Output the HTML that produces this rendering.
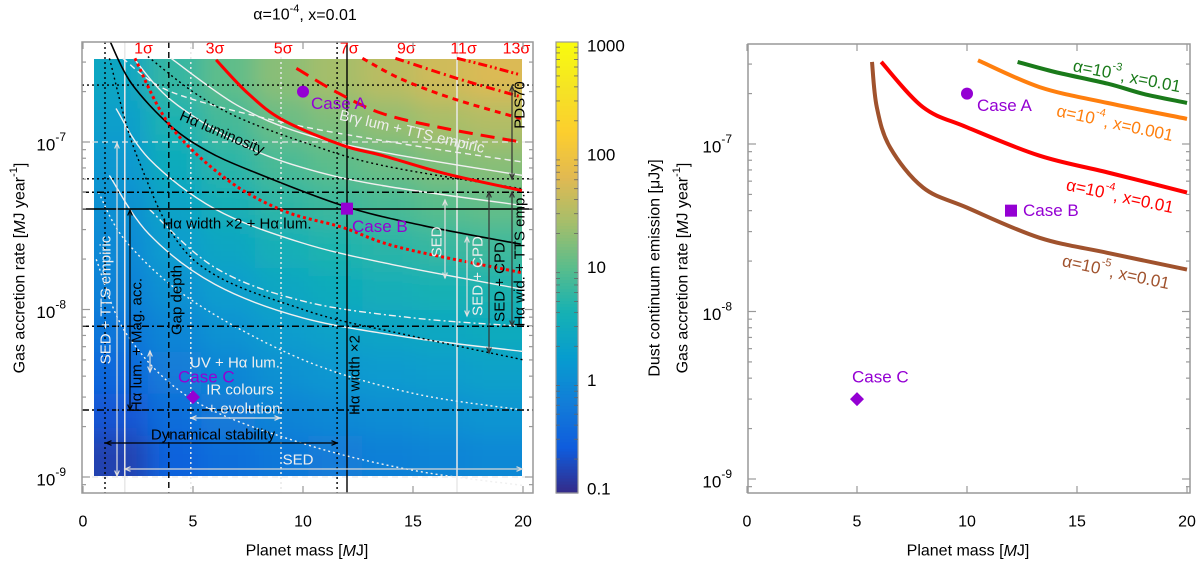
<!DOCTYPE html>
<html><head><meta charset="utf-8">
<style>
html,body{margin:0;padding:0;background:#fff;}
svg{display:block;font-family:"Liberation Sans",Arial,sans-serif;}
</style></head>
<body>
<svg id="fig" width="1200" height="561" viewBox="0 0 1200 561" xmlns="http://www.w3.org/2000/svg">
<defs>
<clipPath id="clipL"><rect x="82" y="42" width="451" height="451"/></clipPath>
<clipPath id="clipR"><rect x="748" y="44" width="442" height="449"/></clipPath>
<clipPath id="clipH"><rect x="94" y="59" width="428" height="417"/></clipPath>
<filter id="blur" x="-10%" y="-10%" width="120%" height="120%"><feGaussianBlur stdDeviation="12"/></filter>
</defs>
<g id="left"></g>
<g id="right"></g>
</svg>
<script>
// ---------- DATA ----------
const heatM = [1.72,4.16,6.59,9.03,11.47,13.91,16.34,18.78];
const heatL = [-8.875,-8.625,-8.375,-8.125,-7.875,-7.625,-7.375,-7.125,-6.875,-6.625];
const heatV = [
 [-0.81,-0.64,-0.46,-0.29,-0.15,-0.05,0.05,0.15,0.26,0.39],
 [-0.53,-0.38,-0.23,-0.08,0.07,0.21,0.34,0.48,0.63,0.78],
 [-0.38,-0.23,-0.08,0.08,0.23,0.39,0.56,0.72,0.88,1.03],
 [-0.27,-0.11,0.06,0.22,0.39,0.56,0.74,0.91,1.09,1.26],
 [-0.21,-0.04,0.14,0.31,0.49,0.66,0.84,1.01,1.2,1.4],
 [-0.16,0.01,0.19,0.36,0.54,0.73,0.91,1.1,1.31,1.54],
 [-0.11,0.06,0.24,0.41,0.6,0.8,1.0,1.2,1.43,1.68],
 [-0.06,0.11,0.29,0.46,0.65,0.85,1.05,1.25,1.49,1.76]
];
const sig1 = [[2.36,-6.50],[3.95,-6.90],[6.5,-7.22],[9.1,-7.41],[11.8,-7.51],[14.4,-7.63],[19.95,-7.78]];
const sig3 = [[6.05,-6.51],[7.5,-6.71],[9.1,-6.87],[11.8,-7.02],[13.6,-7.08],[16.5,-7.19],[19.95,-7.29]];
const sig5 = [[9.7,-6.56],[11.5,-6.7],[13.6,-6.83],[16.5,-6.92],[19.9,-7.0]];
const sig7 = [[12.7,-6.50],[14.4,-6.62],[16.8,-6.74],[19.9,-6.86]];
const sig9 = [[14.2,-6.50],[17,-6.62],[19.9,-6.73]];
const sig11 = [[17.0,-6.50],[18.5,-6.55],[19.9,-6.60]];
const haLum = [[1.23,-6.40],[2.2,-6.65],[3.95,-6.90],[5.6,-7.05],[7.6,-7.17],[11.8,-7.38],[15.5,-7.50],[19.9,-7.61]];
const blkDot1 = [[2.95,-6.49],[5,-6.7],[7,-6.85],[10,-7.0],[13.6,-7.14],[20,-7.28]];
const blkDot2 = [[1.2,-6.5],[2.5,-7.1],[5,-7.70],[10,-8.0],[15,-8.16],[20,-8.3]];
const wht0 = [[4,-6.5],[7,-6.78],[10,-6.95],[14,-7.07],[20,-7.2]];
const wht1 = [[2.3,-6.5],[4,-6.75],[7,-7.0],[9.9,-7.15],[13.6,-7.26],[20,-7.38]];
const wht2 = [[1.5,-6.8],[3,-7.1],[6,-7.4],[9.9,-7.6],[14,-7.73],[20,-7.88]];
const wht3 = [[1.2,-7.2],[3,-7.55],[6,-7.85],[10,-8.05],[15,-8.17],[20,-8.25]];
const whtDash1 = [[1.8,-6.5],[4,-6.7],[9,-6.88],[14,-7.0],[20,-7.12]];
const whtDash2 = [[3,-7.4],[6,-7.75],[10,-7.95],[15,-8.05],[20,-8.1]];
const whtDot1 = [[0.6,-7.7],[2,-8.15],[5,-8.54],[10,-8.8],[15,-8.96],[20,-9.05]];
const whtDot2 = [[0.7,-7.3],[2,-7.6],[5,-7.95],[10,-8.3],[15,-8.5],[20,-8.6]];
const hLines = [[-6.66,'dot'],[-7.22,'dot'],[-7.30,'dashdot'],[-7.40,'solid'],[-8.10,'dashdot'],[-8.60,'dashdot']];
const vLines = [[1.0,'dot'],[3.9,'dash'],[11.55,'dot'],[12.0,'solid']];
const cases = [["Case A",10,2e-7,"circle"],["Case B",12,4e-8,"square"],["Case C",5,3e-9,"diamond"]];
const sigmaLabels = ["1σ","3σ","5σ","7σ","9σ","11σ","13σ"];
const sigmaX = [2.75,6.0,9.1,12.1,14.7,17.3,19.7];
const rGreen = [[12.3,-6.51],[14,-6.57],[16.4,-6.64],[18,-6.70],[20,-6.755]];
const rOrange = [[10.5,-6.50],[13.3,-6.66],[16.4,-6.755],[20,-6.85]];
const rRed = [[6.1,-6.51],[8.0,-6.78],[10,-6.90],[13.3,-7.07],[16.4,-7.17],[20,-7.29]];
const rBrown = [[5.68,-6.51],[5.9,-6.78],[6.5,-7.02],[8.0,-7.26],[10,-7.38],[13.3,-7.56],[16.4,-7.65],[20,-7.75]];
const xTicks = [0,5,10,15,20];
const yDecades = [-9,-8,-7];
const cbTicks = ["0.1","1","10","100","1000"];

// ---------- HELPERS ----------
const NS="http://www.w3.org/2000/svg";
function mk(parent,tag,attrs){const e=document.createElementNS(NS,tag);for(const k in attrs)e.setAttribute(k,attrs[k]);parent.appendChild(e);return e;}
const xL=m=>83+22*m, yL=l=>142-167.5*(l+7);
const xR=m=>747+22*m, yR=l=>144-167.5*(l+7);
const stops=[[53,42,135],[15,92,221],[18,125,216],[7,156,207],[21,177,180],[89,189,140],[165,190,107],[225,185,82],[252,206,46],[245,228,36],[249,251,14]];
function parula(t){t=Math.max(0,Math.min(1,t))*10;const i=Math.min(9,Math.floor(t)),f=t-i;const a=stops[i],b=stops[i+1];return `rgb(${a.map((v,k)=>Math.round(v+(b[k]-v)*f)).join(',')})`;}
const dashes={dot:'2,3',dash:'6,4',dashdot:'7,3,2,3',solid:'none'};
function path(pts,fx,fy){
  const P=pts.map(p=>[fx(p[0]),fy(p[1])]);
  let d='M'+P[0][0].toFixed(1)+','+P[0][1].toFixed(1);
  for(let i=0;i<P.length-1;i++){
    const p0=P[Math.max(0,i-1)],p1=P[i],p2=P[i+1],p3=P[Math.min(P.length-1,i+2)];
    const c1=[p1[0]+(p2[0]-p0[0])/6,p1[1]+(p2[1]-p0[1])/6],c2=[p2[0]-(p3[0]-p1[0])/6,p2[1]-(p3[1]-p1[1])/6];
    d+=` C${c1[0].toFixed(1)},${c1[1].toFixed(1)} ${c2[0].toFixed(1)},${c2[1].toFixed(1)} ${p2[0].toFixed(1)},${p2[1].toFixed(1)}`;
  }
  return d;
}

const L=document.getElementById('left'), R=document.getElementById('right');

// ---------- LEFT PANEL ----------
const hclip=mk(L,'g',{'clip-path':'url(#clipH)'});
const hm=mk(hclip,'g',{filter:'url(#blur)'});


const cw=22*19.5/heatM.length, chL=0.25, nC=heatM.length, nR=heatL.length;
heatM.forEach((m,i)=>heatL.forEach((l,j)=>{
  let x=xL(m)-cw/2, y=yL(l+chL/2), w=cw+0.5, h=167.5*chL+0.5;
  if(i===0){x-=40;w+=40;} if(i===nC-1){w+=40;}
  if(j===nR-1){y-=40;h+=40;} if(j===0){h+=40;}
  const r=mk(hm,'rect',{x:x.toFixed(1),y:y.toFixed(1),width:w.toFixed(1),height:h.toFixed(1),fill:parula((heatV[i][j]+1)/4)});
  
  
}));
const cl=mk(L,'g',{'clip-path':'url(#clipL)'});
mk(cl,'line',{x1:82,x2:533,y1:yL(-7),y2:yL(-7),stroke:'#e6e6e6','stroke-width':1.3,'stroke-dasharray':'6,4'});
mk(cl,'line',{x1:82,x2:533,y1:yL(-9),y2:yL(-9),stroke:'#e6e6e6','stroke-width':1.3,'stroke-dasharray':'6,4'});
[[1.9,'solid'],[4.9,'dot'],[9,'dot'],[17,'solid']].forEach(v=>{
  const e=mk(cl,'line',{x1:xL(v[0]),x2:xL(v[0]),y1:42,y2:493,stroke:'#e8e8e8','stroke-width':1.5,'stroke-dasharray':dashes[v[1]]});
  
  
});
function curve(parent,pts,color,w,dash,name,fx,fy){
  const e=mk(parent,'path',{d:path(pts,fx||xL,fy||yL),fill:'none',stroke:color,'stroke-width':w,'stroke-dasharray':dashes[dash]||dash,'stroke-linejoin':'round'});
  
  
  return e;
}
curve(cl,wht0,'#f0f0f0',1.4,'solid','white-contour-0');
curve(cl,wht1,'#f0f0f0',1.4,'solid','white-contour-1');
curve(cl,wht2,'#f0f0f0',1.4,'solid','white-contour-2');
curve(cl,wht3,'#f0f0f0',1.4,'solid','white-contour-3');
curve(cl,whtDash1,'#f0f0f0',1.4,'dash','bry-lum-curve');
curve(cl,whtDash2,'#f0f0f0',1.4,'dashdot','white-dashdot-curve');
curve(cl,whtDot1,'#f0f0f0',1.4,'dot','white-dotted-curve-1');
curve(cl,whtDot2,'#f0f0f0',1.4,'dot','white-dotted-curve-2');
hLines.forEach(h=>{
  const e=mk(cl,'line',{x1:82,x2:533,y1:yL(h[0]),y2:yL(h[0]),stroke:'#000','stroke-width':1.4,'stroke-dasharray':dashes[h[1]]});
  
  
});
vLines.forEach(v=>{
  const e=mk(cl,'line',{x1:xL(v[0]),x2:xL(v[0]),y1:42,y2:493,stroke:'#000','stroke-width':1.4,'stroke-dasharray':dashes[v[1]]});
  
  
});
curve(cl,blkDot1,'#000',1.4,'dot','black-dotted-curve-1');
curve(cl,blkDot2,'#000',1.4,'dot','black-dotted-curve-2');
curve(cl,haLum,'#000',1.6,'solid','halpha-luminosity-curve');
curve(cl,sig1,'#ff0000',3,'3,3','sigma-1-curve');
curve(cl,sig3,'#ff0000',3,'solid','sigma-3-curve');
curve(cl,sig5,'#ff0000',3,'14,8','sigma-5-curve');
curve(cl,sig7,'#ff0000',3,'6,5','sigma-7-curve');
curve(cl,sig9,'#ff0000',3,'9,4,2,4','sigma-9-curve');
curve(cl,sig11,'#ff0000',3,'9,3,2,3,2,3','sigma-11-curve');

function arrow(p,x1,y1,x2,y2,col,both,name){
  const g=mk(p,'g',{});
  
  
  mk(g,'line',{x1,y1,x2,y2,stroke:col,'stroke-width':1.2});
  const head=(xa,ya,xb,yb)=>{const a=Math.atan2(yb-ya,xb-xa),s=6;mk(g,'path',{d:`M${xb-s*Math.cos(a-0.4)},${yb-s*Math.sin(a-0.4)} L${xb},${yb} L${xb-s*Math.cos(a+0.4)},${yb-s*Math.sin(a+0.4)}`,fill:'none',stroke:col,'stroke-width':1.2});};
  head(x1,y1,x2,y2); if(both) head(x2,y2,x1,y1);
}
arrow(L,117,143,117,476,'#e0e0e0',true,'sed-tts-arrow');
arrow(L,130,210,130,410,'#000',true,'ha-mag-acc-arrow');
arrow(L,106,443,337,443,'#000',true,'dynamical-stability-arrow');
arrow(L,125,469,522,469,'#d8d8d8',true,'sed-arrow-bottom');
arrow(L,191,418,280,418,'#e0e0e0',true,'ir-colours-arrow');
arrow(L,150,351,150,372,'#e0e0e0',true,'uv-arrow');
arrow(L,512,86,512,179,'#333',true,'pds70-arrow');
arrow(L,489,192,489,353,'#333',true,'sed-cpd-black-arrow');
arrow(L,512,192,512,326,'#333',true,'ha-wid-arrow');
arrow(L,445,200,445,278,'#e0e0e0',true,'sed-white-arrow');
arrow(L,467,237,467,316,'#e0e0e0',true,'sed-cpd-white-arrow');

function txt(p,s,x,y,o){
  const e=mk(p,'text',Object.assign({x,y,'font-size':15,fill:'#000','text-anchor':'middle','dominant-baseline':'central'},o||{}));
  e.textContent=s; return e;
}
function named(e,n){return e;}
named(txt(L,'Hα luminosity',222,133,{transform:'rotate(23 222 133)'}),'label-ha-luminosity');
named(txt(L,'Hα width ×2 + Hα lum.',237,224),'label-ha-width-lum');
named(txt(L,'Brγ lum + TTS empiric',412,132,{fill:'#eee',transform:'rotate(13 412 132)'}),'label-bry-lum');
named(txt(L,'UV + Hα lum.',235,363,{fill:'#eee'}),'label-uv-ha');
named(txt(L,'IR colours',240,390,{fill:'#eee'}),'label-ir-colours');
named(txt(L,'+ evolution',244,409,{fill:'#eee'}),'label-evolution');
named(txt(L,'Dynamical stability',213,435),'label-dynamical-stability');
named(txt(L,'SED',298,460,{fill:'#eee'}),'label-sed-bottom');
named(txt(L,'SED + TTS empiric',106,300,{fill:'#eee',transform:'rotate(-90 106 300)'}),'label-sed-tts');
named(txt(L,'Hα lum. + Mag. acc.',137,345,{transform:'rotate(-90 137 345)'}),'label-ha-mag-acc');
named(txt(L,'Gap depth',177,300,{transform:'rotate(-90 177 300)'}),'label-gap-depth');
named(txt(L,'Hα width ×2',355,375,{transform:'rotate(-90 355 375)'}),'label-ha-width');
named(txt(L,'SED',437,242,{fill:'#eee',transform:'rotate(-90 437 242)'}),'label-sed');
named(txt(L,'SED + CPD',478,276,{fill:'#eee',transform:'rotate(-90 478 276)'}),'label-sed-cpd-white');
named(txt(L,'SED + CPD',500,282,{transform:'rotate(-90 500 282)'}),'label-sed-cpd');
named(txt(L,'Hα wid. + TTS emp.',520,260,{transform:'rotate(-90 520 260)'}),'label-ha-wid-tts');
named(txt(L,'PDS70',520,105,{transform:'rotate(-90 520 105)'}),'label-pds70');
sigmaLabels.forEach((s,i)=>named(txt(L,s,xL(sigmaX[i]),49,{fill:'#ff0000','font-size':16}),'sigma-label'));
const tt=txt(L,'',305,15,{'font-size':16});
tt.innerHTML='α=10<tspan font-size="11" dy="-6">-4</tspan><tspan dy="6">, x=0.01</tspan>';
named(tt,'title-left');

function marker(p,shape,x,y,name){
  let e;
  if(shape==='circle') e=mk(p,'circle',{cx:x,cy:y,r:6,fill:'#9400d3'});
  else if(shape==='square') e=mk(p,'rect',{x:x-6,y:y-6,width:12,height:12,fill:'#9400d3'});
  else e=mk(p,'path',{d:`M${x},${y-7} L${x+7},${y} L${x},${y+7} L${x-7},${y}Z`,fill:'#9400d3'});
  named(e,name);
}
const caseOffL=[[8,12],[5,18],[-15,-20]];
cases.forEach((c,i)=>{
  const x=xL(c[1]),y=yL(Math.log10(c[2]));
  marker(L,c[3],x,y,'marker-'+c[0].toLowerCase().replace(' ','-'));
  named(txt(L,c[0],x+caseOffL[i][0],y+caseOffL[i][1],{fill:'#9400d3','font-size':17,'text-anchor':'start'}),'case-label');
});

function frame(p,x0,y0,x1,y1,fx,fy,name){
  named(mk(p,'rect',{x:x0,y:y0,width:x1-x0,height:y1-y0,fill:'none',stroke:'#999','stroke-width':1.5}),name);
  xTicks.forEach(t=>{const x=fx(t);mk(p,'line',{x1:x,x2:x,y1:y1,y2:y1-7,stroke:'#999','stroke-width':1.2});mk(p,'line',{x1:x,x2:x,y1:y0,y2:y0+7,stroke:'#999','stroke-width':1.2});});
  yDecades.concat([-10,-6]).forEach(d=>{for(let k=1;k<10;k++){const y=fy(d+Math.log10(k));if(y<y0||y>y1)continue;const len=k===1?8:4;
    mk(p,'line',{x1:x0,x2:x0+len,y1:y,y2:y,stroke:'#999','stroke-width':1.2});mk(p,'line',{x1:x1,x2:x1-len,y1:y,y2:y,stroke:'#999','stroke-width':1.2});}});
}
frame(L,82,42,533,493,xL,yL,'left-plot-frame');
function yLabel(p,d,xr,y,name){
  const e=txt(p,'',xr,y,{'font-size':17,'text-anchor':'end'});
  e.innerHTML=`10<tspan font-size="12" dy="-8">${d}</tspan>`; named(e,name);
}
yDecades.forEach(d=>yLabel(L,d,66,yL(d)+3,'y-tick-label'));
xTicks.forEach(t=>named(txt(L,String(t),xL(t),522,{'font-size':16}),'x-tick-label'));
const xl1=txt(L,'',307,551,{'font-size':16});xl1.innerHTML='Planet mass [<tspan font-style="italic">M</tspan>J]';named(xl1,'x-axis-title-left');
const yl1=txt(L,'',20,268,{'font-size':16,transform:'rotate(-90 20 268)'});yl1.innerHTML='Gas accretion rate [<tspan font-style="italic">M</tspan>J year<tspan font-size="11" dy="-6">-1</tspan><tspan dy="6">]</tspan>';named(yl1,'y-axis-title-left');

const cb=mk(L,'g',{});named(cb,'colorbar');
for(let i=0;i<150;i++){const t0=i/150;mk(cb,'rect',{x:556,y:(493-(t0+1/150)*451).toFixed(2),width:22,height:(451/150+0.6).toFixed(2),fill:parula(t0+0.5/150)});}
mk(cb,'rect',{x:556,y:42,width:22,height:451,fill:'none',stroke:'#999','stroke-width':1.2});
cbTicks.forEach((s,i)=>{const y=493-i*451/4;named(txt(L,s,587,y===493?489:(y===42?46:y),{'font-size':17,'text-anchor':'start'}),'colorbar-tick-label');
  for(let k=2;k<10&&i<4;k++){const yy=y-Math.log10(k)*451/4;mk(cb,'line',{x1:556,x2:560,y1:yy,y2:yy,stroke:'#666','stroke-width':0.8});mk(cb,'line',{x1:578,x2:574,y1:yy,y2:yy,stroke:'#666','stroke-width':0.8});}});
const cbt=txt(L,'',655,268,{'font-size':16,transform:'rotate(-90 655 268)'});cbt.innerHTML='Dust continuum emission [μJy]';named(cbt,'colorbar-title');

// ---------- RIGHT PANEL ----------
const cr=mk(R,'g',{'clip-path':'url(#clipR)'});
curve(cr,rGreen,'#1a7a1a',4,'solid','curve-alpha-1e-3-x-0.01',xR,yR);
curve(cr,rOrange,'#ff7f0e',4,'solid','curve-alpha-1e-4-x-0.001',xR,yR);
curve(cr,rRed,'#ff0000',4,'solid','curve-alpha-1e-4-x-0.01',xR,yR);
curve(cr,rBrown,'#a0522d',4,'solid','curve-alpha-1e-5-x-0.01',xR,yR);
function rlab(s1,sup,s2,x,y,col,ang,name){
  const e=txt(R,'',x,y,{'font-size':17,fill:col,transform:`rotate(${ang} ${x} ${y})`});
  e.innerHTML=`${s1}<tspan font-size="11" dy="-7">${sup}</tspan><tspan dy="7">${s2}</tspan>`;named(e,name);
}
rlab('α=10','-3',', x=0.01',1127,76,'#1a7a1a',11,'legend-green');
rlab('α=10','-4',', x=0.001',1115,123,'#ff7f0e',12,'legend-orange');
rlab('α=10','-4',', x=0.01',1120,196,'#ff0000',12,'legend-red');
rlab('α=10','-5',', x=0.01',1116,272,'#a0522d',12,'legend-brown');
const caseOffR=[[10,12],[12,0],[-5,-22]];
cases.forEach((c,i)=>{
  const x=xR(c[1]),y=yR(Math.log10(c[2]));
  marker(R,c[3],x,y,'marker-right-'+c[0].toLowerCase().replace(' ','-'));
  named(txt(R,c[0],x+caseOffR[i][0],y+caseOffR[i][1],{fill:'#9400d3','font-size':17,'text-anchor':'start'}),'case-label-right');
});
frame(R,748,44,1190,493,xR,yR,'right-plot-frame');
yDecades.forEach(d=>yLabel(R,d,732,yR(d)+3,'y-tick-label-right'));
xTicks.forEach(t=>named(txt(R,String(t),xR(t),522,{'font-size':16}),'x-tick-label-right'));
const xl2=txt(R,'',968,551,{'font-size':16});xl2.innerHTML='Planet mass [<tspan font-style="italic">M</tspan>J]';named(xl2,'x-axis-title-right');
const yl2=txt(R,'',683,268,{'font-size':16,transform:'rotate(-90 683 268)'});yl2.innerHTML='Gas accretion rate [<tspan font-style="italic">M</tspan>J year<tspan font-size="11" dy="-6">-1</tspan><tspan dy="6">]</tspan>';named(yl2,'y-axis-title-right');
</script>
</body></html>
